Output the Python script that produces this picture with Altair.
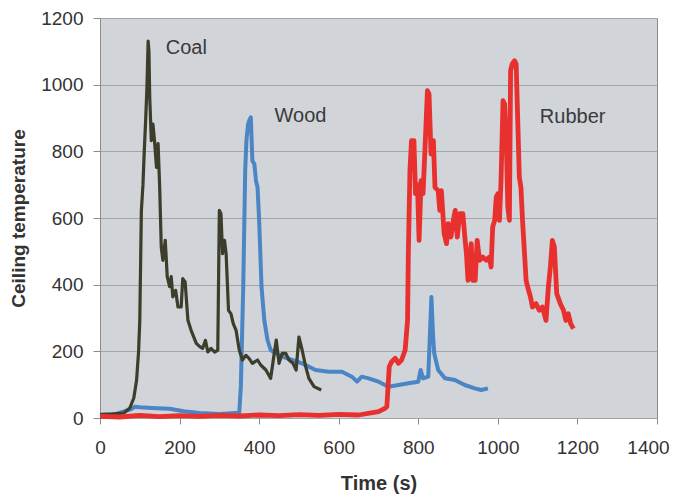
import altair as alt
import pandas as pd

# ---- data ----
coal_t = [0, 30, 60, 75, 85, 92, 97, 100, 104, 108, 111, 115, 118, 121, 123, 125, 129, 133, 137, 142,
          146, 150, 154, 158, 164, 169, 175, 179, 183, 190, 196, 204, 208, 214, 221, 229, 242, 250, 258,
          265, 271, 279, 288, 296, 300, 304, 308, 313, 317, 323, 329, 335, 342, 350, 358, 367, 375, 383,
          396, 404, 417, 429, 438, 443, 450, 458, 467, 475, 485, 493, 500, 508, 517, 525, 538, 556]
coal_v = [10, 12, 15, 30, 60, 114, 200, 293, 623, 700, 793, 900, 993, 1131, 1100, 962, 832, 882, 832, 752,
          823, 692, 513, 473, 533, 424, 394, 424, 363, 383, 333, 333, 418, 408, 293, 263, 224, 215, 209,
          233, 198, 209, 198, 203, 623, 613, 493, 533, 493, 323, 313, 283, 263, 204, 174, 188, 178, 164,
          174, 159, 144, 119, 194, 234, 164, 194, 194, 174, 164, 144, 243, 204, 154, 119, 94, 84]

wood_t = [0, 40, 75, 88, 100, 130, 175, 210, 250, 300, 340, 350, 354, 360, 365, 368, 372, 375, 379, 383,
          388, 392, 396, 400, 406, 413, 421, 429, 442, 458, 483, 508, 542, 575, 608, 633, 646, 658, 675,
          700, 725, 750, 775, 800, 806, 812, 825, 829, 833, 837, 840, 850, 867, 892, 917, 942, 958, 975]
wood_v = [10, 12, 25, 34, 32, 30, 28, 20, 15, 12, 15, 15, 94, 393, 743, 832, 880, 892, 902, 772,
          762, 712, 692, 593, 393, 293, 234, 204, 194, 184, 174, 164, 144, 139, 139, 124, 109, 124, 119,
          109, 94, 99, 104, 109, 144, 119, 124, 243, 363, 250, 194, 144, 119, 114, 99, 89, 84, 89]

rubber_t = [0, 50, 100, 150, 200, 250, 300, 350, 400, 450, 500, 550, 600, 650, 700, 715, 721, 727, 733,
            742, 750, 758, 767, 773, 775, 779, 783, 789, 793, 798, 802, 807, 812, 817, 823, 827, 832, 838,
            842, 850, 854, 858, 865, 871, 875, 882, 888, 893, 898, 904, 912, 917, 921, 925, 933, 937, 943,
            948, 954, 962, 971, 979, 983, 987, 992, 996, 1000, 1004, 1008, 1013, 1017, 1021, 1025, 1029,
            1032, 1036, 1042, 1046, 1050, 1054, 1058, 1062, 1067, 1071, 1075, 1082, 1087, 1096, 1104,
            1112, 1121, 1127, 1132, 1137, 1142, 1148, 1157, 1165, 1171, 1177, 1183, 1190]
rubber_v = [5, 3, 8, 4, 7, 5, 8, 6, 9, 7, 10, 8, 11, 9, 19, 28, 34, 154, 169,
            179, 164, 174, 204, 293, 493, 742, 832, 832, 673, 700, 533, 712, 673, 812, 982, 972, 792, 832,
            692, 682, 623, 682, 553, 523, 583, 543, 593, 623, 543, 613, 613, 543, 493, 413, 523, 413, 413,
            533, 473, 483, 473, 483, 453, 573, 593, 663, 673, 593, 712, 952, 942, 842, 633, 593,
            1042, 1062, 1072, 1062, 892, 722, 692, 593, 493, 413, 393, 363, 333, 343, 323,
            333, 293, 393, 453, 533, 513, 373, 343, 323, 293, 313, 283, 268]

label_text = ["Coal", "Wood", "Rubber"]
label_t = [217, 504, 1188]
label_temp = [1111, 907, 904]

x_ticks = [0, 200, 400, 600, 800, 1000, 1200, 1400]
y_ticks = [0, 200, 400, 600, 800, 1000, 1200]

FONT = "Liberation Sans"

xscale = alt.Scale(domain=[0, 1400], nice=False, zero=False)
yscale = alt.Scale(domain=[0, 1200], nice=False)

xaxis = alt.Axis(title="Time (s)", values=x_ticks, format="d", grid=False, domain=False,
                 labelFlush=False, labelOverlap=False,
                 labelOffset={"condition": {"test": "datum.value == 1400", "value": -9}, "value": 0},
                 tickSize=6, tickColor="#8a8a8a", labelPadding=14,
                 labelFontSize=19, labelColor="#333333", labelFont=FONT,
                 titleFontSize=20, titleFont=FONT, titleFontWeight="bold", titleColor="#333333",
                 titleX=278.5, titleY=65, titleBaseline="middle", titleAlign="center")
yaxis = alt.Axis(title="Ceiling temperature", values=y_ticks, format="d", grid=True,
                 labelFlush=False, labelOverlap=False,
                 gridColor="#a3a6a9", gridWidth=1, domain=False,
                 tickSize=7, tickColor="#8a8a8a", labelPadding=10,
                 labelFontSize=19, labelColor="#333333", labelFont=FONT,
                 titleFontSize=19, titleFont=FONT, titleFontWeight="bold", titleColor="#333333",
                 titleAngle=270, titleX=-82, titleY=200, titleBaseline="middle", titleAlign="center")


def series(t, v, color, width):
    df = pd.DataFrame({"t": t, "v": v})
    return alt.Chart(df).mark_line(color=color, strokeWidth=width, strokeJoin="round").encode(
        x=alt.X("t:Q", scale=xscale, axis=xaxis),
        y=alt.Y("v:Q", scale=yscale, axis=yaxis),
    )


wood = series(wood_t, wood_v, "#4a85c6", 4)
coal = series(coal_t, coal_v, "#3c3d2a", 3.2)
rubber = series(rubber_t, rubber_v, "#e8302f", 4.8)

labels = alt.Chart(pd.DataFrame({"t": label_t, "v": label_temp, "txt": label_text})).mark_text(
    font=FONT, fontSize=20, color="#3a3a3a", align="center", baseline="middle"
).encode(
    x=alt.X("t:Q", scale=xscale),
    y=alt.Y("v:Q", scale=yscale),
    text="txt:N",
)

chart = alt.layer(wood, coal, rubber, labels).properties(
    width=557, height=400,
    autosize=alt.AutoSizeParams(type="none"),
    padding={"left": 92, "top": 10, "right": 15, "bottom": 78},
    background="white",
).configure_view(
    fill="#d1d4d8", stroke="#8c8c8c", strokeWidth=1
)

chart.save("out.html", embed_options={"renderer": "svg", "actions": False})
